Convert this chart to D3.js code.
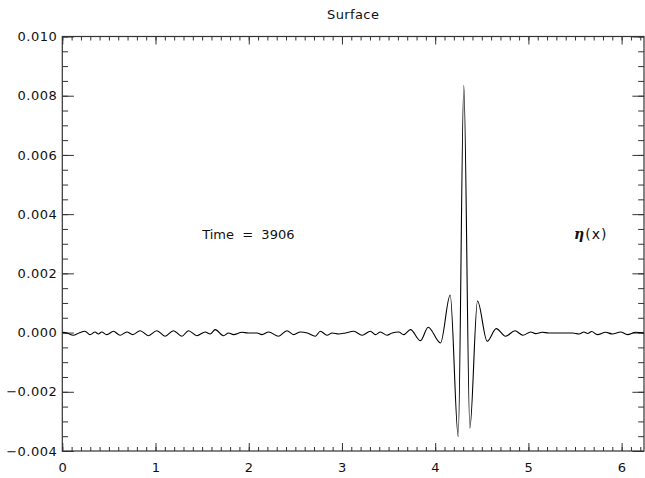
<!DOCTYPE html>
<html>
<head>
<meta charset="utf-8">
<script src="https://cdn.jsdelivr.net/npm/d3@7"></script>
<style>
  body { margin: 0; background: white; }
  text { font-family: "DejaVu Sans", sans-serif; fill: #111; }
</style>
</head>
<body>
<svg id="plot" width="645" height="478"></svg>
<script>

var xMax = 6.24;

var xTicks = [0, 1, 2, 3, 4, 5, 6];
var yTicks = [-0.004, -0.002, 0.000, 0.002, 0.004, 0.006, 0.008, 0.010];

// surface elevation eta(x)
var xVals = [0.000, 0.047, 0.118, 0.179, 0.243, 0.297, 0.351, 0.387, 0.423, 0.477,
    0.548, 0.620, 0.692, 0.756, 0.835, 0.924, 1.014, 1.103, 1.192, 1.282,
    1.353, 1.444, 1.533, 1.586, 1.640, 1.729, 1.783, 1.837, 1.927, 1.995,
    2.088, 2.142, 2.213, 2.320, 2.410, 2.481, 2.553, 2.628, 2.714, 2.768,
    2.840, 2.894, 2.965, 3.037, 3.126, 3.216, 3.305, 3.359, 3.412, 3.484,
    3.538, 3.609, 3.663, 3.735, 3.842, 3.925, 4.057, 4.161, 4.247, 4.307,
    4.372, 4.454, 4.558, 4.655, 4.755, 4.855, 4.941, 5.024, 5.077, 5.149,
    5.217, 5.346, 5.475, 5.543, 5.596, 5.636, 5.679, 5.740, 5.829, 5.900,
    5.990, 6.062, 6.151, 6.240];
var etaVals = [0.010e-3, -0.013e-3, -0.091e-3, -0.013e-3, 0.044e-3, -0.071e-3, 0.020e-3, -0.047e-3, 0.020e-3, -0.071e-3,
    0.044e-3, -0.091e-3, 0.020e-3, -0.071e-3, 0.064e-3, -0.105e-3, 0.064e-3, -0.125e-3, 0.064e-3, -0.125e-3,
    0.064e-3, -0.105e-3, 0.020e-3, -0.047e-3, 0.098e-3, -0.105e-3, -0.013e-3, -0.071e-3, 0.010e-3, -0.013e-3,
    -0.013e-3, -0.071e-3, 0.020e-3, -0.125e-3, 0.064e-3, -0.071e-3, 0.020e-3, -0.013e-3, -0.125e-3, 0.044e-3,
    -0.091e-3, -0.013e-3, -0.047e-3, -0.013e-3, 0.044e-3, -0.091e-3, 0.044e-3, -0.071e-3, 0.020e-3, -0.091e-3,
    -0.013e-3, 0.020e-3, -0.071e-3, 0.098e-3, -0.273e-3, 0.179e-3, -0.351e-3, 1.269e-3, -3.512e-3, 8.354e-3,
    -3.229e-3, 1.066e-3, -0.294e-3, 0.132e-3, -0.125e-3, 0.064e-3, -0.091e-3, 0.020e-3, -0.037e-3, 0.010e-3,
    -0.013e-3, -0.013e-3, -0.013e-3, -0.047e-3, 0.020e-3, -0.030e-3, 0.037e-3, -0.071e-3, 0.010e-3, -0.047e-3,
    0.020e-3, -0.071e-3, 0.010e-3, -0.013e-3];

var titleText = "Surface";
var timeLabel = "Time  =  3906";

// plot box edges (window.top is taken, so prefix them)
var boxLeft = 62.3, boxRight = 644, boxTop = 36.5, boxBottom = 451;

var svg = d3.select("#plot");

var x = d3.scaleLinear().domain([0, xMax]).range([boxLeft, boxRight]);
var y = d3.scaleLinear().domain([-0.004, 0.010]).range([boxBottom, boxTop]);

var axisColor = "#333";

function styleAxis(g) {
    g.select(".domain").remove();
    g.selectAll("line").attr("stroke", axisColor);
    g.selectAll("text")
        .style("font-size", "13px")
        .style("letter-spacing", "0.5px")
        .attr("fill", "#111");
}

// minor ticks first, majors on top
var xMinor = d3.range(0, xMax + 1e-9, 0.1);
var yMinor = d3.range(-0.004, 0.010 + 1e-9, 0.0005);

svg.append("g").attr("transform", "translate(0," + boxBottom + ")")
    .call(d3.axisBottom(x).tickValues(xMinor).tickSize(-4).tickFormat(""))
    .call(styleAxis);
svg.append("g").attr("transform", "translate(0," + boxTop + ")")
    .call(d3.axisTop(x).tickValues(xMinor).tickSize(-4).tickFormat(""))
    .call(styleAxis);
svg.append("g").attr("transform", "translate(" + boxLeft + ",0)")
    .call(d3.axisLeft(y).tickValues(yMinor).tickSize(-5.8).tickFormat(""))
    .call(styleAxis);
svg.append("g").attr("transform", "translate(" + boxRight + ",0)")
    .call(d3.axisRight(y).tickValues(yMinor).tickSize(-5.8).tickFormat(""))
    .call(styleAxis);

svg.append("g").attr("transform", "translate(0," + boxBottom + ")")
    .call(d3.axisBottom(x).tickValues(xTicks).tickSize(-8).tickPadding(12).tickFormat(d3.format("d")))
    .call(styleAxis);
svg.append("g").attr("transform", "translate(0," + boxTop + ")")
    .call(d3.axisTop(x).tickValues(xTicks).tickSize(-8).tickFormat(""))
    .call(styleAxis);
svg.append("g").attr("transform", "translate(" + boxLeft + ",0)")
    .call(d3.axisLeft(y).tickValues(yTicks).tickSize(-11.6).tickPadding(5).tickFormat(d3.format(".3f")))
    .call(styleAxis);
svg.append("g").attr("transform", "translate(" + boxRight + ",0)")
    .call(d3.axisRight(y).tickValues(yTicks).tickSize(-11.6).tickFormat(""))
    .call(styleAxis);

svg.append("rect")
    .attr("x", boxLeft)
    .attr("y", boxTop)
    .attr("width", boxRight - boxLeft)
    .attr("height", boxBottom - boxTop)
    .attr("fill", "none")
    .attr("stroke", axisColor)
    .attr("stroke-width", 1.2)

var line = d3.line()
    .x(function (d, i) { return x(xVals[i]) })
    .y(function (d, i) { return y(etaVals[i]) })
    .curve(d3.curveMonotoneX);

svg.append("path")
    .datum(xVals)
    .attr("d", line)
    .attr("fill", "none")
    .attr("stroke", "#000")
    .attr("stroke-width", 1.1)

svg.append("text")
    .attr("x", (boxLeft + boxRight) / 2)
    .attr("y", 19)
    .attr("text-anchor", "middle")
    .style("font-size", "13px")
    .style("letter-spacing", "0.4px")
    .text(titleText)

svg.append("text")
    .attr("x", x(1.5))
    .attr("y", y(0.00317))
    .attr("xml:space", "preserve")
    .style("white-space", "pre")
    .style("font-size", "13px")
    .text(timeLabel)

var etaLabel = svg.append("text")
    .attr("x", x(5.49))
    .attr("y", y(0.00317))
    .style("font-size", "14px")
etaLabel.append("tspan")
    .style("font-family", "'DejaVu Serif', serif")
    .style("font-style", "italic")
    .style("font-weight", "bold")
    .style("font-size", "14px")
    .text("η")
etaLabel.append("tspan")
    .attr("dx", 1)
    .style("letter-spacing", "1px")
    .text("(x)")

</script>
</body>
</html>
